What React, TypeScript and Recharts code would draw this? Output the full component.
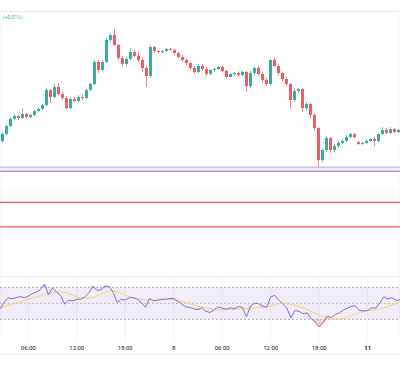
import React from 'react';
import {
  ComposedChart, Bar, Line, Area, XAxis, YAxis, CartesianGrid,
  ReferenceLine, ReferenceArea,
} from 'recharts';

// 30-minute candles, EUR-style prices
const opens = [
  1.0870, 1.0877, 1.0885, 1.0892, 1.0895, 1.0893, 1.0897, 1.0894, 1.0896, 1.0900,
  1.0902, 1.0906, 1.0921, 1.0914, 1.0924, 1.0917, 1.0913, 1.0903, 1.0912, 1.0910,
  1.0914, 1.0913, 1.0921, 1.0927, 1.0949, 1.0941, 1.0949, 1.0971, 1.0976, 1.0966,
  1.0953, 1.0947, 1.0952, 1.0959, 1.0955, 1.0951, 1.0943, 1.0935, 1.0964, 1.0960,
  1.0959, 1.0960, 1.0962, 1.0961, 1.0958, 1.0954, 1.0951, 1.0948, 1.0943, 1.0939,
  1.0945, 1.0942, 1.0937, 1.0941, 1.0942, 1.0944, 1.0940, 1.0934, 1.0937, 1.0938,
  1.0936, 1.0939, 1.0925, 1.0938, 1.0943, 1.0937, 1.0931, 1.0927, 1.0951, 1.0945,
  1.0938, 1.0932, 1.0927, 1.0911, 1.0920, 1.0922, 1.0903, 1.0907, 1.0896, 1.0883,
  1.0851, 1.0861, 1.0873, 1.0861, 1.0865, 1.0868, 1.0870, 1.0874, 1.0877, 1.0869,
  1.0867, 1.0868, 1.0870, 1.0872, 1.0870, 1.0877, 1.0881, 1.0878, 1.0882, 1.0879,
];
const highs = [
  1.0879, 1.0886, 1.0894, 1.0897, 1.0896, 1.0903, 1.0898, 1.0897, 1.0901, 1.0904,
  1.0907, 1.0923, 1.0922, 1.0927, 1.0928, 1.0919, 1.0915, 1.0914, 1.0914, 1.0916,
  1.0916, 1.0922, 1.0928, 1.0951, 1.0951, 1.0951, 1.0973, 1.0978, 1.0982, 1.0967,
  1.0955, 1.0954, 1.0963, 1.0961, 1.0959, 1.0954, 1.0945, 1.0966, 1.0965, 1.0961,
  1.0961, 1.0963, 1.0963, 1.0962, 1.0959, 1.0956, 1.0952, 1.0949, 1.0945, 1.0947,
  1.0947, 1.0944, 1.0942, 1.0943, 1.0945, 1.0945, 1.0941, 1.0938, 1.0939, 1.0940,
  1.0940, 1.0940, 1.0940, 1.0944, 1.0945, 1.0939, 1.0933, 1.0952, 1.0953, 1.0947,
  1.0939, 1.0934, 1.0928, 1.0923, 1.0923, 1.0923, 1.0909, 1.0908, 1.0898, 1.0884,
  1.0863, 1.0875, 1.0874, 1.0867, 1.0870, 1.0872, 1.0876, 1.0878, 1.0878, 1.0870,
  1.0869, 1.0872, 1.0873, 1.0874, 1.0878, 1.0884, 1.0883, 1.0884, 1.0883, 1.0882,
];
const lows = [
  1.0868, 1.0876, 1.0884, 1.0891, 1.0891, 1.0892, 1.0892, 1.0893, 1.0895, 1.0899,
  1.0901, 1.0905, 1.0908, 1.0913, 1.0916, 1.0911, 1.0902, 1.0902, 1.0909, 1.0909,
  1.0911, 1.0912, 1.0920, 1.0926, 1.0938, 1.0940, 1.0948, 1.0969, 1.0965, 1.0951,
  1.0944, 1.0945, 1.0951, 1.0954, 1.0949, 1.0939, 1.0924, 1.0933, 1.0958, 1.0958,
  1.0958, 1.0959, 1.0960, 1.0956, 1.0953, 1.0949, 1.0946, 1.0941, 1.0937, 1.0938,
  1.0940, 1.0935, 1.0936, 1.0939, 1.0941, 1.0939, 1.0932, 1.0933, 1.0935, 1.0934,
  1.0935, 1.0919, 1.0923, 1.0936, 1.0935, 1.0928, 1.0925, 1.0925, 1.0944, 1.0936,
  1.0930, 1.0925, 1.0903, 1.0909, 1.0918, 1.0899, 1.0901, 1.0893, 1.0880, 1.0844,
  1.0849, 1.0859, 1.0858, 1.0859, 1.0863, 1.0867, 1.0869, 1.0873, 1.0873, 1.0866,
  1.0866, 1.0867, 1.0869, 1.0865, 1.0869, 1.0876, 1.0877, 1.0877, 1.0878, 1.0878,
];
const closes = [
  1.0877, 1.0885, 1.0892, 1.0895, 1.0893, 1.0897, 1.0894, 1.0896, 1.0900, 1.0902,
  1.0906, 1.0921, 1.0914, 1.0924, 1.0917, 1.0913, 1.0903, 1.0912, 1.0910, 1.0914,
  1.0913, 1.0921, 1.0927, 1.0949, 1.0941, 1.0949, 1.0971, 1.0976, 1.0966, 1.0953,
  1.0947, 1.0952, 1.0959, 1.0955, 1.0951, 1.0943, 1.0935, 1.0964, 1.0960, 1.0959,
  1.0960, 1.0962, 1.0961, 1.0958, 1.0954, 1.0951, 1.0948, 1.0943, 1.0939, 1.0945,
  1.0942, 1.0937, 1.0941, 1.0942, 1.0944, 1.0940, 1.0934, 1.0937, 1.0938, 1.0936,
  1.0939, 1.0925, 1.0938, 1.0943, 1.0937, 1.0931, 1.0927, 1.0951, 1.0945, 1.0938,
  1.0932, 1.0927, 1.0911, 1.0920, 1.0922, 1.0903, 1.0907, 1.0896, 1.0883, 1.0851,
  1.0861, 1.0873, 1.0861, 1.0865, 1.0868, 1.0870, 1.0874, 1.0877, 1.0874, 1.0867,
  1.0868, 1.0870, 1.0872, 1.0870, 1.0877, 1.0881, 1.0878, 1.0882, 1.0879, 1.0881,
];

const rsiValues = [
  43, 51, 57, 55.5, 57, 58.5, 57, 59, 62, 64,
  67, 74, 61, 69, 64, 60, 49, 54, 53, 55,
  55, 58, 63, 71.5, 66, 67, 71.5, 71, 64, 51,
  55, 54, 57, 57, 55, 51, 45, 56, 53, 54,
  55, 55, 56, 56, 52.5, 49, 45.5, 45, 43, 42,
  44.5, 40, 38.5, 42, 45.5, 44, 42.5, 44.5, 43, 46,
  45, 33, 46.5, 50, 49.5, 46.5, 45, 58, 60, 54,
  49, 44, 32, 41, 40, 37, 38, 31, 26.5, 20.5,
  26, 34, 32, 36, 38, 41.5, 44, 46.5, 46.5, 41,
  40.5, 41, 44.5, 44, 50.5, 58, 55.5, 57, 53.5, 54.5,
];
const rsiMa = [
  45, 46, 47.5, 49, 50.5, 52, 53.5, 55, 56.5, 58,
  60, 61.5, 62.5, 63.5, 64.5, 64.5, 63.5, 62, 60, 58,
  57, 56.5, 56.5, 57.5, 59.5, 61.5, 63.5, 65.5, 66, 64.5,
  62.5, 60.5, 58.5, 57, 56, 55, 54.5, 54, 54, 54,
  54.5, 55, 55, 54.5, 53.5, 52.5, 51, 49.5, 48, 46.5,
  45.5, 44.5, 43.5, 42.5, 42, 42, 42, 42.5, 42.5, 43,
  43.5, 43.5, 44, 44.5, 45, 45.5, 46, 46.5, 48, 49.5,
  50, 49.5, 48.5, 47.5, 46, 44.5, 42.5, 40, 37.5, 35,
  33, 32, 30.5, 30, 30.5, 31, 32.5, 34.5, 36.5, 38.5,
  40, 41, 41.5, 42, 43.5, 44.5, 46, 48, 50, 52,
];

const tickIndexes = [7, 19, 31, 43, 55, 67, 79, 91];
const tickLabels = ['06:00', '12:00', '18:00', '8', '06:00', '12:00', '18:00', '11'];

// horizontal price levels drawn on the main pane
const blueLevel = 1.08438;
const purpleLevel = 1.08397;
const greyLevel = 1.08203;
const pinkLevel = 1.08123;
const redLevels = [1.08087, 1.07842];

const UP = '#3aae9c';
const DOWN = '#f15b63';
const GRID = '#f0f2f6';

const data = closes.map((c, i) => ({
  idx: i,
  open: opens[i],
  high: highs[i],
  low: lows[i],
  close: c,
  rsi: rsiValues[i],
  ma: rsiMa[i],
}));

const Candle = (props: any) => {
  const { x, y, width, height, payload } = props;
  const { open, close, high, low } = payload;
  const color = close >= open ? UP : DOWN;
  const top = Math.min(y, y + height);
  const span = Math.abs(height);
  const k = high === low ? 0 : span / (high - low);
  const bodyTop = top + (high - Math.max(open, close)) * k;
  const bodyH = Math.max(1, Math.abs(open - close) * k);
  const cx = x + width / 2;
  return (
    <g>
      <line x1={cx} x2={cx} y1={top} y2={top + span} stroke={color} strokeOpacity={0.75} strokeWidth={1} />
      <rect x={x} y={bodyTop} width={width} height={bodyH} fill={color} />
    </g>
  );
};

const TimeTick = (props: any) => {
  const { x, y, payload } = props;
  const label = tickLabels[tickIndexes.indexOf(payload.value)];
  return (
    <text
      x={x}
      y={y}
      dy="0.71em"
      textAnchor="middle"
      fontSize={6}
      fontFamily="Roboto, sans-serif"
      fontWeight={label === '11' ? 700 : 400}
      fill="#131722"
    >
      {label}
    </text>
  );
};

const hline = (top: number, color: string) => (
  <div style={{ position: 'absolute', left: 0, top, width: 400, height: 1, background: color }} />
);

export default function App() {
  return (
    <div style={{ position: 'absolute', left: 0, top: 0, width: 400, height: 370, background: '#fff', overflow: 'hidden' }}>
      {hline(11, '#e8eaee')}

      <div style={{ position: 'absolute', left: 0, top: 11 }}>
        <ComposedChart width={400} height={265} data={data} margin={{ top: 0, right: 0, bottom: 0, left: 0 }}>
          <CartesianGrid vertical horizontal={false} stroke={GRID} />
          <XAxis dataKey="idx" ticks={tickIndexes} interval={0} tick={false} axisLine={false} tickLine={false} height={0} />
          <YAxis hide domain={[1.0735, 1.1]} allowDataOverflow />
          <ReferenceArea y1={purpleLevel} y2={blueLevel} fill="#eef3e6" fillOpacity={1} stroke="none" />
          <ReferenceLine y={blueLevel} stroke="#b7cbef" strokeWidth={1.6} />
          <ReferenceLine y={purpleLevel} stroke="#b574d6" strokeWidth={1.3} />
          <ReferenceLine y={greyLevel} stroke="#e3eaea" strokeWidth={1} strokeDasharray="1 1" />
          <ReferenceLine y={pinkLevel} stroke="#f6e3e6" strokeWidth={1} strokeDasharray="1 1" />
          <ReferenceLine y={redLevels[0]} stroke="#ef5a5a" strokeWidth={1.2} />
          <ReferenceLine y={redLevels[1]} stroke="#f38585" strokeWidth={1.7} />
          <Bar
            dataKey={(d: any) => [d.low, d.high]}
            barSize={3}
            isAnimationActive={false}
            shape={(p: any) => <Candle {...p} />}
          />
        </ComposedChart>
      </div>

      <svg width={60} height={24} style={{ position: 'absolute', left: 0, top: 0 }}>
        <text x={2.7} y={19} fontSize={5} fontFamily="Roboto, sans-serif" fill="#3cb4a0">
          (+0.01%)
        </text>
      </svg>

      {hline(276, '#eceef1')}

      <div style={{ position: 'absolute', left: 0, top: 277 }}>
        <ComposedChart width={400} height={77} data={data} margin={{ top: 0, right: 0, bottom: 0, left: 0 }}>
          <CartesianGrid vertical horizontal={false} stroke={GRID} />
          <XAxis
            dataKey="idx"
            ticks={tickIndexes}
            interval={0}
            tick={<TimeTick />}
            axisLine={false}
            tickLine={false}
            tickSize={0}
            tickMargin={5}
            height={13}
          />
          <YAxis hide domain={[2.9, 82.9]} allowDataOverflow />
          <ReferenceArea y1={30} y2={70} fill="#7e57c2" fillOpacity={0.1} stroke="none" />
          <ReferenceLine y={70} stroke="#a9a6b6" strokeDasharray="2 2" />
          <ReferenceLine y={50} stroke="#b9b6c4" strokeDasharray="2 2" />
          <ReferenceLine y={30} stroke="#a9a6b6" strokeDasharray="2 2" />
          <Area
            type="linear"
            dataKey={(d: any) => [Math.min(d.rsi, 30), 30]}
            stroke="none"
            fill="#f26b6b"
            fillOpacity={0.35}
            isAnimationActive={false}
          />
          <Area
            type="linear"
            dataKey={(d: any) => [70, Math.max(d.rsi, 70)]}
            stroke="none"
            fill="#26a69a"
            fillOpacity={0.25}
            isAnimationActive={false}
          />
          <Line type="linear" dataKey="ma" stroke="#f5d36a" strokeWidth={1} dot={false} isAnimationActive={false} />
          <Line type="linear" dataKey="rsi" stroke="#8465cf" strokeWidth={1} dot={false} isAnimationActive={false} />
        </ComposedChart>
      </div>

      {hline(354, '#eceef1')}
    </div>
  );
}
